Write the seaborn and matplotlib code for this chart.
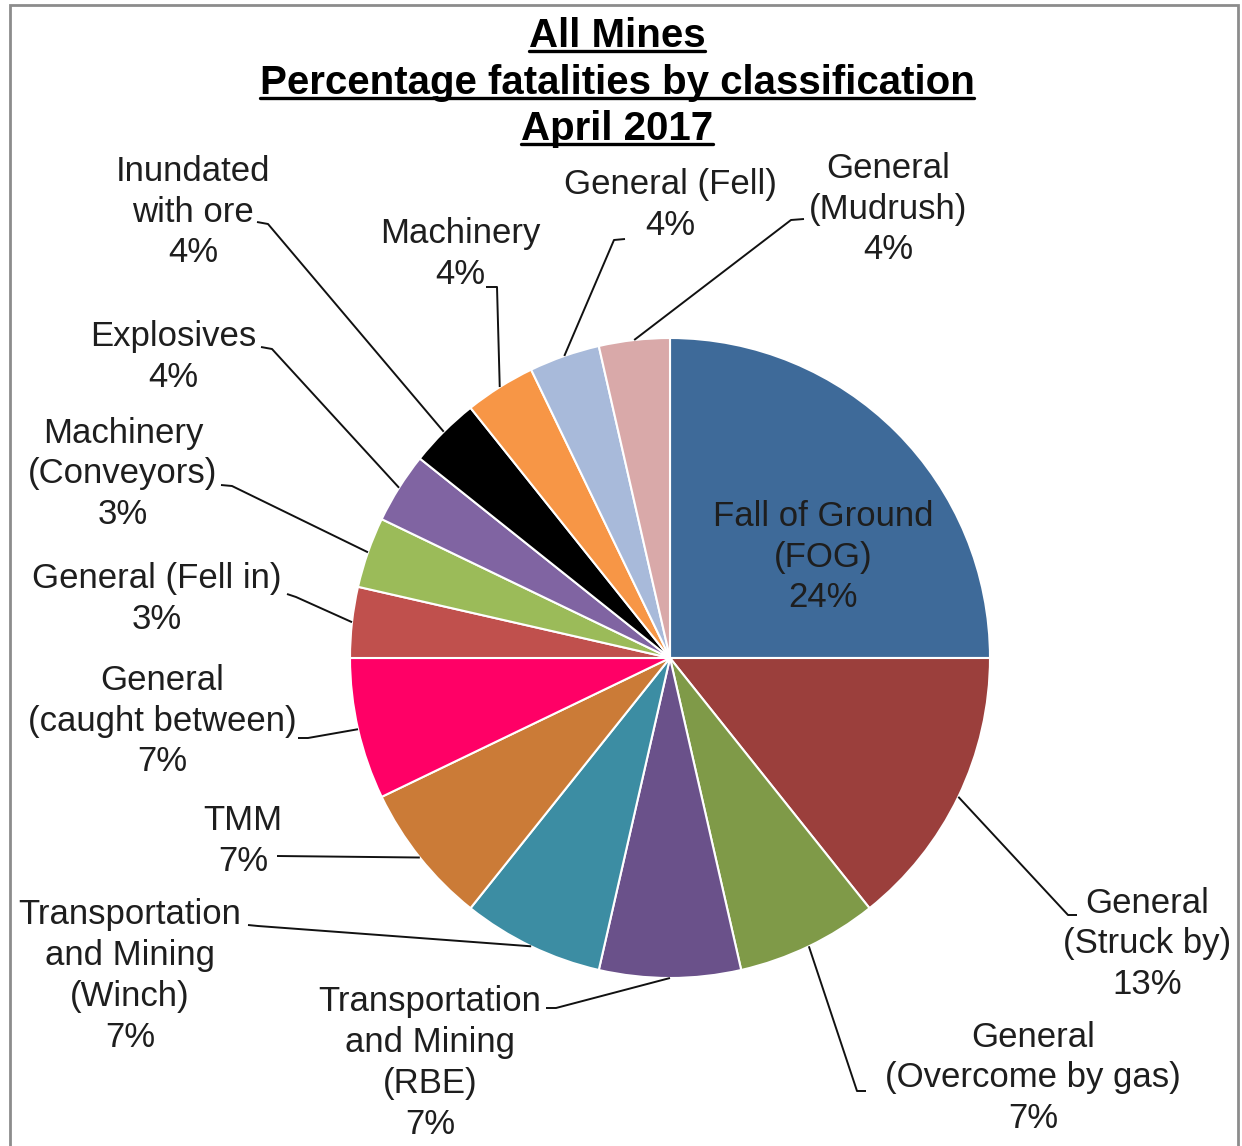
"""
All Mines - percentage fatalities by classification, April 2017 (pie).
"""

import numpy as np
import matplotlib.pyplot as plt
import seaborn as sns
from matplotlib.patches import Rectangle
from matplotlib.lines import Line2D

# ---- data -------------------------------------------------------------
categories = [
    "Fall of Ground\n(FOG)",
    "General\n(Struck by)",
    "General\n(Overcome by gas)",
    "Transportation\nand Mining\n(RBE)",
    "Transportation\nand Mining\n(Winch)",
    "TMM",
    "General\n(caught between)",
    "General (Fell in)",
    "Machinery\n(Conveyors)",
    "Explosives",
    "Inundated\nwith ore",
    "Machinery",
    "General (Fell)",
    "General\n(Mudrush)",
]
fatalities = [7, 4, 2, 2, 2, 2, 2, 1, 1, 1, 1, 1, 1, 1]
pct_labels = ["24%", "13%", "7%", "7%", "7%", "7%", "7%",
              "3%", "3%", "4%", "4%", "4%", "4%", "4%"]
colors = ["#3E6A99", "#9B3F3C", "#7F9A48", "#6A518A", "#3C8DA3", "#CB7B37",
          "#FF0066", "#C0504D", "#9BBB59", "#8064A2", "#000000", "#F79646",
          "#A8BADA", "#D9A9A9"]
title_lines = ["All Mines", "Percentage fatalities by classification", "April 2017"]

# ---- layout (pixel positions on a 1242x1146 canvas, y from top) -------
W, H = 1242, 1146
CX, CY, R = 670, 658, 320
text_pos = [(823, 557), (1147, 944), (1033, 1078), (430, 1063), (130, 976),
            (243, 841), (162, 721), (157, 599), (123, 474), (173, 357),
            (193, 212), (460, 254), (670, 205), (888, 209)]
leaders = [None,
           [(1077, 915), (1068, 915)],
           [(866, 1091), (857, 1091)],
           [(546, 1008), (556, 1008)],
           [(248, 925), (258, 926)],
           [(277, 856)],
           [(298, 738), (308, 738)],
           [(287, 594), (296, 597)],
           [(221, 485), (232, 486)],
           [(261, 347), (272, 349)],
           [(257, 222), (268, 224)],
           [(486, 287), (497, 287)],
           [(625, 239), (614, 240)],
           [(804, 219), (791, 220)]]


def img(x, y):
    return x, H - y


sns.set_theme(style="white")
plt.rcParams["font.family"] = ["Liberation Sans", "DejaVu Sans"]
txt_color = "#1e1e1e"

fig = plt.figure(figsize=(W / 100, H / 100), dpi=100)
ax = fig.add_axes([0, 0, 1, 1])

wedges, _ = ax.pie(
    fatalities, colors=colors, startangle=90, counterclock=False,
    center=img(CX, CY), radius=R,
    wedgeprops={"edgecolor": "white", "linewidth": 1.5},
)
ax.set_xlim(0, W)
ax.set_ylim(0, H)
ax.set_aspect("equal")
ax.axis("off")

for i, w in enumerate(wedges):
    label = categories[i] + "\n" + pct_labels[i]
    tx, ty = img(*text_pos[i])
    ax.text(tx, ty, label, ha="center", va="center", multialignment="center",
            fontsize=25, color=txt_color, linespacing=1.3)
    if leaders[i] is None:
        continue
    theta = np.deg2rad((w.theta1 + w.theta2) / 2)
    ex = w.center[0] + w.r * np.cos(theta)
    ey = w.center[1] + w.r * np.sin(theta)
    pts = [img(*p) for p in leaders[i]] + [(ex, ey)]
    xs, ys = zip(*pts)
    ax.plot(xs, ys, color="#111111", lw=1.4, solid_capstyle="butt")

# title, underlined line by line
title_texts = []
for j, line in enumerate(title_lines):
    tx, ty = img(617, 47 + 46.5 * j)
    t = ax.text(tx, ty, line, ha="center", va="baseline", fontsize=29,
                fontweight="bold", color="black")
    title_texts.append(t)

fig.canvas.draw()
renderer = fig.canvas.get_renderer()
for j, t in enumerate(title_texts):
    bb = t.get_window_extent(renderer)
    uy = H - (51 + 46.5 * j)
    ax.add_line(Line2D([bb.x0, bb.x1], [uy, uy], color="black", lw=2.4))

# chart area border
fig.patches.append(Rectangle((10 / W, -0.01), 1228 / W, 1 - 5 / H + 0.01,
                             transform=fig.transFigure, fill=False,
                             edgecolor="#8c8c8c", lw=2))

fig.savefig("out.png", dpi=100)
